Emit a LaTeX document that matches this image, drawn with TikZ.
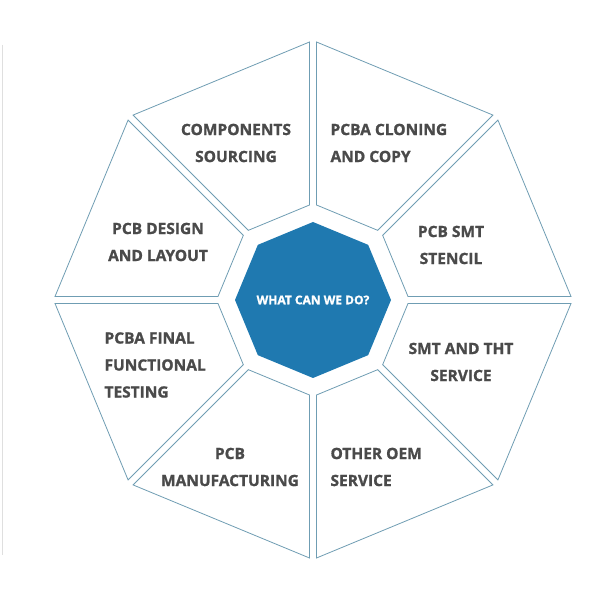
\documentclass[tikz,border=0pt]{standalone}
\usepackage{fontspec}
\setmainfont{Open Sans}[FakeBold=1.2]
\usetikzlibrary{calc,shapes.geometric}
\begin{document}
\begin{tikzpicture}[x=1pt,y=1pt,
  seg/.style={draw=lineblue,line width=0.8pt,fill=white},
  lbl/.style={text=labelgray,font=\bfseries\fontsize{15.5}{27}\selectfont,align=center},
  lbll/.style={lbl,align=left}]
\definecolor{lineblue}{HTML}{6F9DB3}
\definecolor{labelgray}{HTML}{4A4A4A}
\definecolor{hubblue}{HTML}{1F79B0}
\useasboundingbox (0,0) rectangle (600,600);
\draw[gray!25,line width=0.8pt] (2,555) -- (2,45);
\coordinate (c) at (313,300);
\def\R{258}\def\r{95}\def\d{3.5}
\foreach \A in {0,45,...,315}{
  \pgfmathsetmacro\B{\A+45}
  \draw[seg] ($(c)+(\A:\R)+(\A+90:\d)$) -- ($(c)+(\B:\R)+(\B-90:\d)$)
     -- ($(c)+(\B:\r)+(\B-90:\d)$) -- ($(c)+(\A:\r)+(\A+90:\d)$) -- cycle;
}
\node[draw=none,fill=hubblue,regular polygon,regular polygon sides=8,
  minimum size=156pt,shape border rotate=22.5,inner sep=0pt] (hub) at (c) {};
\node[text=white,font=\bfseries\fontsize{12}{14}\selectfont] (ht) at (c) {WHAT CAN WE DO?};
\node[lbl] (n1) at (236,457) {COMPONENTS\\SOURCING};
\node[lbll,anchor=west] (n2) at (327,457) {PCBA CLONING\\AND COPY};
\node[lbl] (n3) at (451,355) {PCB SMT\\STENCIL};
\node[lbl] (n4) at (158,358) {PCB DESIGN\\AND LAYOUT};
\node[lbll,anchor=west] (n5) at (101,235) {PCBA FINAL\\FUNCTIONAL\\TESTING};
\node[lbl] (n6) at (461,238) {SMT AND THT\\SERVICE};
\node[lbl] (n7) at (230,133) {PCB\\MANUFACTURING};
\node[lbll,anchor=west] (n8) at (327,133) {OTHER OEM\\SERVICE};
\end{tikzpicture}
\end{document}
